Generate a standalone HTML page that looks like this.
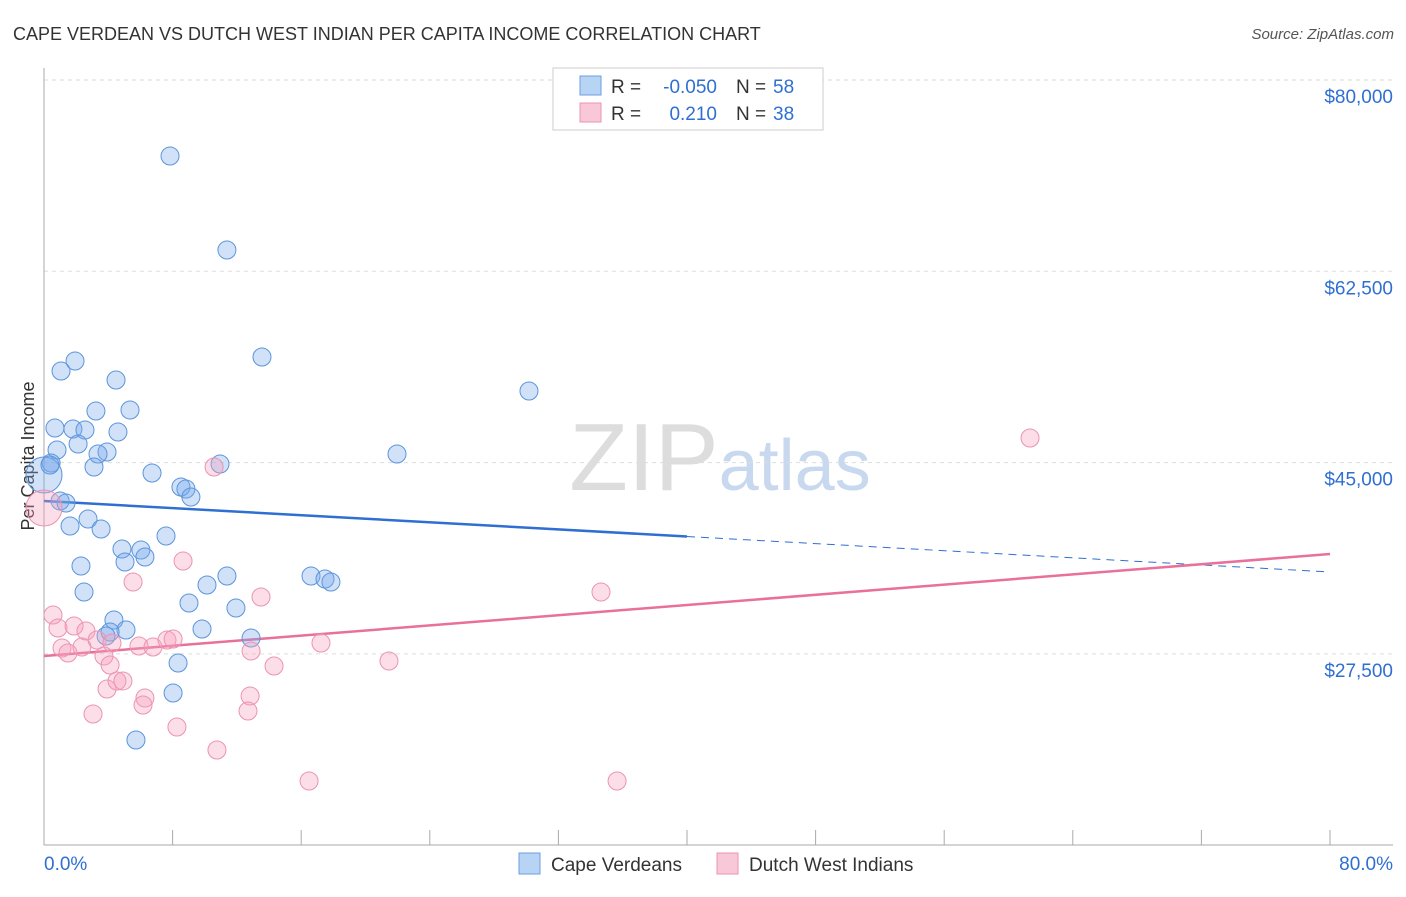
<!DOCTYPE html>
<html><head><meta charset="utf-8"><style>
body{margin:0;background:#fff;font-family:"Liberation Sans",sans-serif;}
svg text{font-family:"Liberation Sans",sans-serif;}
</style></head><body>
<svg id="chart" width="1406" height="892" xmlns="http://www.w3.org/2000/svg">
<text x="13" y="40" font-size="18" fill="#333">CAPE VERDEAN VS DUTCH WEST INDIAN PER CAPITA INCOME CORRELATION CHART</text>
<text x="1394" y="39" font-size="15" fill="#555" text-anchor="end" font-style="italic">Source: ZipAtlas.com</text>
<text x="720" y="490" font-size="96" fill="#ddd" text-anchor="middle" font-family="Liberation Serif">ZIP<tspan fill="#c8d8ee" font-family="Liberation Sans" font-size="72">atlas</tspan></text>
<text transform="translate(34,456) rotate(-90)" font-size="18" fill="#333" text-anchor="middle">Per Capita Income</text>
<g id="grid"></g><g id="axes"></g><g id="trend"></g><g id="marks"></g>
<g>
<rect x="553" y="68" width="270" height="62" fill="#fff" stroke="#ccc"/>
<rect x="580" y="76" width="21" height="19" fill="#b8d4f5" stroke="#6a9fe0"/>
<rect x="580" y="103" width="21" height="19" fill="#f9c8d8" stroke="#ec93b2"/>
<text x="611" y="93" font-size="19" fill="#333">R =</text>
<text x="717" y="93" font-size="19" fill="#2f6fd1" text-anchor="end">-0.050</text>
<text x="736" y="93" font-size="19" fill="#333">N =</text>
<text x="773" y="93" font-size="19" fill="#2f6fd1">58</text>
<text x="611" y="120" font-size="19" fill="#333">R =</text>
<text x="717" y="120" font-size="19" fill="#2f6fd1" text-anchor="end">0.210</text>
<text x="736" y="120" font-size="19" fill="#333">N =</text>
<text x="773" y="120" font-size="19" fill="#2f6fd1">38</text>
</g>
<g>
<rect x="519" y="853" width="21" height="21" fill="#b8d4f5" stroke="#6a9fe0"/>
<text x="551" y="871" font-size="19" fill="#333">Cape Verdeans</text>
<rect x="717" y="853" width="21" height="21" fill="#f9c8d8" stroke="#ec93b2"/>
<text x="749" y="871" font-size="19" fill="#333">Dutch West Indians</text>
</g>
</svg>
<script>
const yTicks=[80000,62500,45000,27500];
const yTickLabels=["$80,000","$62,500","$45,000","$27,500"];
const xTickLabels=["0.0%","80.0%"];
const blueX=[7.84,11.38,13.56,30.17,1.93,1.06,4.48,3.23,5.35,0.68,1.80,2.55,4.60,2.12,0.81,3.92,3.36,0.44,3.11,10.95,6.72,21.96,8.52,8.83,9.14,1.00,1.37,1.62,2.74,3.55,7.59,4.85,6.03,6.28,5.04,2.30,16.61,17.48,17.85,11.38,10.14,9.02,2.49,11.94,4.35,5.10,4.11,3.86,9.83,12.88,8.34,8.03,5.72,0,0.37];
const blueY=[73047,64447,54660,51550,54294,53380,52556,49720,49812,48165,48074,47982,47800,46702,46152,45970,45787,44964,44598,44873,44050,45787,42768,42585,41853,41487,41304,39200,39840,38925,38285,37096,37004,36364,35906,35540,34626,34351,34077,34626,33802,32156,33162,31698,30601,29686,29503,29137,29777,28954,26667,23923,19623,43866,44781];
const blueR=[9,9,9,9,9,9,9,9,9,9,9,9,9,9,9,9,9,9,9,9,9,9,9,9,9,9,9,9,9,9,9,9,9,9,9,9,9,9,9,9,9,9,9,9,9,9,9,9,9,9,9,9,9,18,9];
const pinkX=[61.34,10.58,0,8.65,5.54,13.50,34.65,0.56,0.87,1.87,2.61,3.30,4.23,1.12,1.49,2.36,3.73,4.11,5.91,6.78,7.65,8.03,12.88,17.23,21.46,14.31,3.92,4.54,4.91,6.28,6.16,12.82,12.69,3.05,8.27,10.76,16.49,35.65];
const pinkY=[47250,44598,40847,36000,34077,32705,33162,31058,29869,30052,29594,28771,28497,28039,27582,28131,27308,26484,28222,28131,28771,28863,27765,28497,26850,26393,24289,25021,25021,23466,22825,23649,22277,22002,20812,18708,15872,15872];
const pinkR=[9,9,18,9,9,9,9,9,9,9,9,9,9,9,9,9,9,9,9,9,9,9,9,9,9,9,9,9,9,9,9,9,9,9,9,9,9,9];
const blueTrend=[41487,34992];
const pinkTrend=[27307,36638];
const NS="http://www.w3.org/2000/svg";
const X=p=>44+p/80*1286;
const Y=v=>80+(80000-v)/17500*191.3;
function mk(tag,attrs,parent){const e=document.createElementNS(NS,tag);for(const k in attrs)e.setAttribute(k,attrs[k]);document.getElementById(parent).appendChild(e);return e;}
yTicks.forEach((t,i)=>{
 let l=mk('line',{x1:44,x2:1393,y1:Y(t),y2:Y(t),stroke:'#ddd','stroke-dasharray':'4,4'},'grid');
 
 
 let tx=mk('text',{x:1393,y:Y(t)+23,'font-size':19,fill:'#2f6fd1','text-anchor':'end'},'grid');
 tx.textContent=yTickLabels[i];
 
 
});
let ay=mk('line',{x1:44,x2:44,y1:68,y2:845,stroke:'#aaa'},'axes');


let ax=mk('line',{x1:44,x2:1393,y1:845,y2:845,stroke:'#aaa'},'axes');


for(let i=1;i<=10;i++){let t=mk('line',{x1:X(i*8),x2:X(i*8),y1:830,y2:845,stroke:'#aaa'},'axes');
 
 }
[[0,'start',44],[80,'end',1393]].forEach((d,i)=>{let t=mk('text',{x:d[2],y:870,'font-size':19,fill:'#2f6fd1','text-anchor':d[1]},'axes');t.textContent=xTickLabels[i];
 
 });
const bAt=p=>blueTrend[0]+(blueTrend[1]-blueTrend[0])*p/80;
let b1=mk('line',{x1:X(0),y1:Y(bAt(0)),x2:X(40),y2:Y(bAt(40)),stroke:'#2f6fd1','stroke-width':2.5},'trend');


let b2=mk('line',{x1:X(40),y1:Y(bAt(40)),x2:X(80),y2:Y(bAt(80)),stroke:'#2f6fd1','stroke-width':1,'stroke-dasharray':'8,6'},'trend');


let p1=mk('line',{x1:X(0),y1:Y(pinkTrend[0]),x2:X(80),y2:Y(pinkTrend[1]),stroke:'#e8709a','stroke-width':2.5},'trend');


blueX.forEach((x,i)=>{let c=mk('circle',{cx:X(x),cy:Y(blueY[i]),r:blueR[i],fill:'rgba(120,170,235,0.35)',stroke:'#5b95dc','stroke-width':1},'marks');
 
 });
pinkX.forEach((x,i)=>{let c=mk('circle',{cx:X(x),cy:Y(pinkY[i]),r:pinkR[i],fill:'rgba(245,160,190,0.35)',stroke:'#ec93b2','stroke-width':1},'marks');
 
 });
</script>
</body></html>
